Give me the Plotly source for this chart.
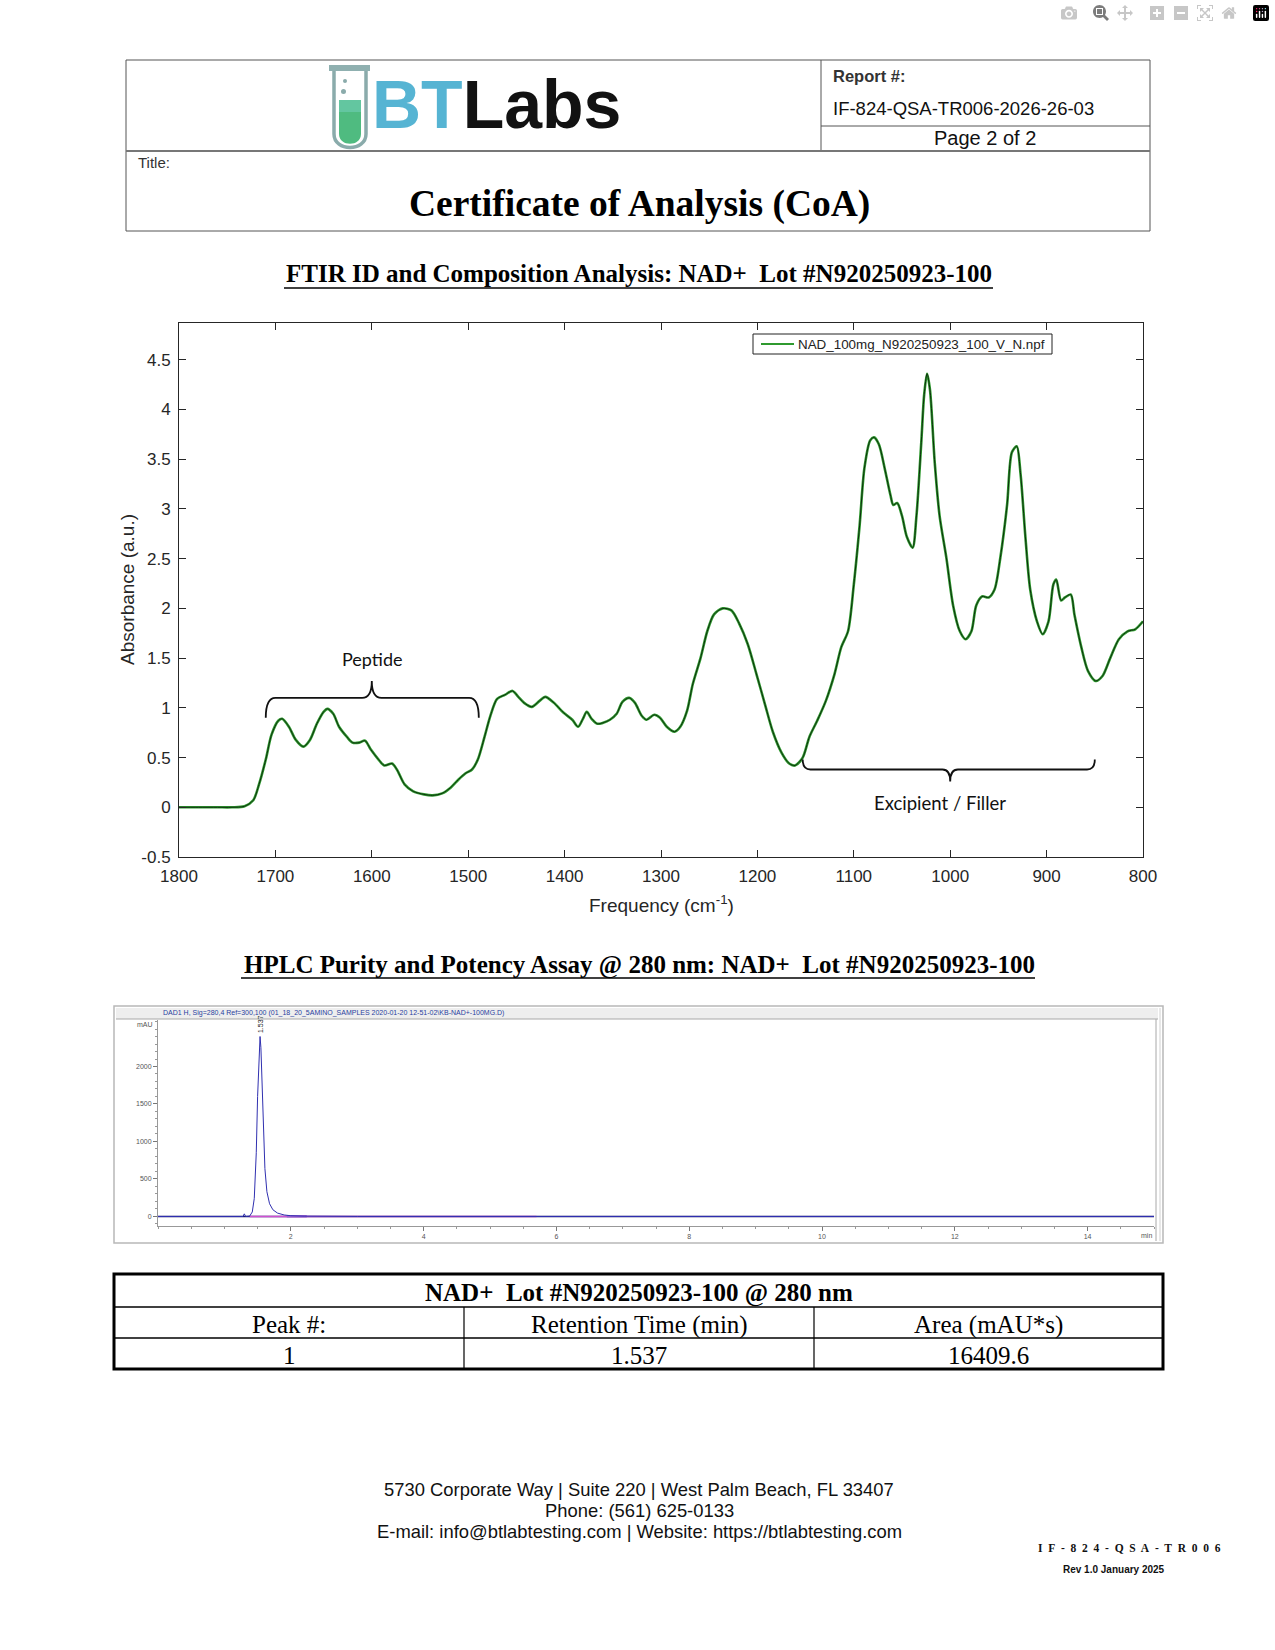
import plotly.graph_objects as go

# ---------------- DATA ----------------
ftir_freq = [1800, 1780, 1760, 1745, 1732, 1723, 1717, 1710, 1704, 1697, 1693, 1686, 1679, 1671,
             1664, 1657, 1650, 1646, 1640, 1634, 1626, 1620, 1613, 1607, 1601, 1593, 1587, 1579,
             1574, 1566, 1557, 1546, 1537, 1527, 1518, 1510, 1503, 1496, 1490, 1483, 1477, 1470,
             1462, 1454, 1448, 1442, 1434, 1426, 1420, 1411, 1401, 1392, 1386, 1381, 1377, 1372,
             1366, 1360, 1353, 1346, 1340, 1333, 1327, 1320, 1315, 1307, 1301, 1294, 1286, 1280,
             1273, 1267, 1259, 1252, 1245, 1236, 1227, 1219, 1210, 1201, 1192, 1184, 1175, 1167,
             1161, 1153, 1146, 1138, 1129, 1120, 1113, 1106, 1100, 1094, 1089, 1083, 1079, 1074,
             1068, 1062, 1059, 1055, 1050, 1045, 1039, 1035, 1030, 1027, 1024, 1021, 1016, 1011,
             1004, 997, 990, 984, 978, 973, 967, 960, 954, 948, 941, 936, 931, 927, 922, 917, 910,
             904, 898, 893, 890, 885, 881, 875, 871, 864, 857, 849, 842, 834, 825, 816, 808, 800]
ftir_abs = [0.00, 0.00, 0.00, 0.00, 0.01, 0.07, 0.23, 0.48, 0.73, 0.87, 0.89, 0.81, 0.68, 0.61,
            0.68, 0.84, 0.96, 0.99, 0.94, 0.81, 0.71, 0.65, 0.65, 0.67, 0.58, 0.48, 0.42, 0.44,
            0.38, 0.23, 0.16, 0.13, 0.12, 0.14, 0.20, 0.28, 0.34, 0.38, 0.48, 0.71, 0.92, 1.09,
            1.13, 1.17, 1.11, 1.05, 1.01, 1.07, 1.11, 1.05, 0.95, 0.88, 0.81, 0.89, 0.96, 0.89,
            0.84, 0.85, 0.88, 0.94, 1.06, 1.10, 1.05, 0.92, 0.88, 0.93, 0.90, 0.81, 0.76, 0.81,
            0.97, 1.24, 1.50, 1.77, 1.94, 2.00, 1.98, 1.85, 1.64, 1.34, 1.03, 0.76, 0.55, 0.44,
            0.42, 0.50, 0.71, 0.87, 1.07, 1.34, 1.61, 1.77, 2.24, 2.83, 3.41, 3.69, 3.72, 3.65,
            3.41, 3.14, 3.04, 3.06, 2.93, 2.72, 2.61, 2.93, 3.67, 4.15, 4.36, 4.20, 3.46, 2.93,
            2.51, 2.03, 1.77, 1.69, 1.77, 2.03, 2.12, 2.11, 2.19, 2.51, 3.04, 3.57, 3.63, 3.35,
            2.72, 2.19, 1.87, 1.74, 1.87, 2.24, 2.29, 2.08, 2.11, 2.14, 1.93, 1.61, 1.37, 1.27,
            1.32, 1.50, 1.69, 1.77, 1.79, 1.87]
ftir_name = "NAD_100mg_N920250923_100_V_N.npf"
ftir_xticks = [1800, 1700, 1600, 1500, 1400, 1300, 1200, 1100, 1000, 900, 800]
ftir_yticks = [-0.5, 0, 0.5, 1, 1.5, 2, 2.5, 3, 3.5, 4, 4.5]
ftir_yticklabels = ["-0.5", "0", "0.5", "1", "1.5", "2", "2.5", "3", "3.5", "4", "4.5"]

hplc_time = [0.0, 1.0, 1.28, 1.30, 1.32, 1.38, 1.42, 1.45, 1.48, 1.50, 1.52, 1.537, 1.55, 1.57,
             1.59, 1.61, 1.64, 1.68, 1.73, 1.80, 1.90, 2.00, 2.20, 3.00, 15.0]
hplc_mau = [0, 0, 0, 35, 0, 5, 60, 240, 850, 1600, 2200, 2400, 2250, 1700,
            1080, 640, 330, 170, 90, 45, 20, 10, 4, 0, 0]
hplc_base_t = [1.38, 5.70]
hplc_base_v = [0, 0]
hplc_base2_t = [1.94, 2.24]
hplc_base2_v = [3, 3]
hplc_xticks = [2, 4, 6, 8, 10, 12, 14]
hplc_yticks = [0, 500, 1000, 1500, 2000]
peak_rt = 1.537
peak_label = "1.537"

table_title = "NAD+  Lot #N920250923-100 @ 280 nm"
table_header = ["Peak #:", "Retention Time (min)", "Area (mAU*s)"]
table_row = ["1", "1.537", "16409.6"]

W, H = 1275, 1650


def X(p):
    return p / W


def Y(p):
    return 1 - p / H


SERIF = "Liberation Serif"
SANS = "Liberation Sans"

fig = go.Figure()

# FTIR traces
fig.add_trace(go.Scatter(x=ftir_freq, y=ftir_abs, mode="lines", name=ftir_name, showlegend=False,
                         line=dict(color="#2f9a2f", width=2.6, shape="spline", smoothing=0.8),
                         xaxis="x", yaxis="y"))
fig.add_trace(go.Scatter(x=ftir_freq, y=ftir_abs, mode="lines", showlegend=False,
                         line=dict(color="#0d2d0d", width=1.0, shape="spline", smoothing=0.8),
                         xaxis="x", yaxis="y", hoverinfo="skip"))

# HPLC traces
fig.add_trace(go.Scatter(x=[0, 15], y=[0, 0], mode="lines", showlegend=False,
                         line=dict(color="#1a1a6e", width=1.6), xaxis="x2", yaxis="y2"))
fig.add_trace(go.Scatter(x=hplc_base_t, y=hplc_base_v, mode="lines", showlegend=False,
                         line=dict(color="#d050d0", width=1.6), xaxis="x2", yaxis="y2"))
fig.add_trace(go.Scatter(x=hplc_base2_t, y=hplc_base2_v, mode="lines", showlegend=False,
                         line=dict(color="#a060d0", width=2.5), xaxis="x2", yaxis="y2"))
fig.add_trace(go.Scatter(x=hplc_time, y=hplc_mau, mode="lines", showlegend=False,
                         line=dict(color="#3030b0", width=1.0), xaxis="x2", yaxis="y2"))

shapes = []
ann = []


def line(x0, y0, x1, y1, color="#444", width=1):
    shapes.append(dict(type="line", xref="paper", yref="paper", x0=X(x0), y0=Y(y0),
                       x1=X(x1), y1=Y(y1), line=dict(color=color, width=width)))


def rect(x0, y0, x1, y1, color="#444", width=1, fill=None):
    d = dict(type="rect", xref="paper", yref="paper", x0=X(x0), y0=Y(y0), x1=X(x1), y1=Y(y1),
             line=dict(color=color, width=width))
    if fill:
        d["fillcolor"] = fill
    if width == 0:
        d["line"] = dict(width=0)
    shapes.append(d)


def text(x, y, s, size, family=SANS, color="#111", xanchor="center", yanchor="middle", angle=0):
    ann.append(dict(xref="paper", yref="paper", x=X(x), y=Y(y), text=s, showarrow=False,
                    xanchor=xanchor, yanchor=yanchor, textangle=angle,
                    font=dict(family=family, size=size, color=color)))


def path(pts_cmd, **kw):
    shapes.append(dict(type="path", xref="paper", yref="paper", path=pts_cmd, **kw))


def P(x, y):
    return f"{X(x):.5f},{Y(y):.5f}"


# ---------------- HEADER ----------------
rect(126, 60, 1150, 231, color="#555", width=1)
line(821, 60, 821, 151, color="#555")
line(821, 126, 1150, 126, color="#555")
line(126, 151, 1150, 151, color="#777", width=2)

# test tube logo
rect(329, 65, 370, 71, width=0, fill="#8fb0b0")
path("M " + P(334, 71) + " L " + P(334, 134) + " C " + P(334, 152) + " " + P(366, 152) + " "
     + P(366, 134) + " L " + P(366, 71),
     line=dict(color="#8aabab", width=3.5))
path("M " + P(339, 100) + " L " + P(339, 134) + " C " + P(339, 147) + " " + P(361, 147) + " "
     + P(361, 134) + " L " + P(361, 100) + " Z",
     fillcolor="#4fbb80", line=dict(width=0))
path("M " + P(339, 100) + " L " + P(361, 100) + " L " + P(361, 112) + " L " + P(339, 112) + " Z",
     fillcolor="#63c6a0", line=dict(width=0))
shapes.append(dict(type="circle", xref="paper", yref="paper", x0=X(343), y0=Y(83), x1=X(347), y1=Y(79),
                   fillcolor="#8aabab", line=dict(width=0)))
shapes.append(dict(type="circle", xref="paper", yref="paper", x0=X(341), y0=Y(94), x1=X(346), y1=Y(89),
                   fillcolor="#8aabab", line=dict(width=0)))

text(496, 104, '<b><span style="color:#56b4d3">BT</span><span style="color:#121212">Labs</span></b>',
     68, family=SANS)

text(831, 76, "<b>Report #:</b>", 16.5, xanchor="left", color="#333")
text(831, 109, "IF-824-QSA-TR006-2026-26-03", 18.5, xanchor="left", color="#111")
text(985, 138, "Page 2 of 2", 20, color="#111")
text(136, 163, "Title:", 15, xanchor="left", color="#333")
text(639, 204, "<b>Certificate of Analysis (CoA)</b>", 37.5, family=SERIF, color="#000")

# ---------------- FTIR heading ----------------
text(639, 274, "<b>FTIR ID and Composition Analysis: NAD+  Lot #N920250923-100</b>", 25,
     family=SERIF, color="#000")
line(284, 288, 993, 288, color="#000", width=1.5)

# FTIR axis titles
text(661, 904, "Frequency (cm<sup>-1</sup>)", 19, color="#262626")
text(127, 590, "Absorbance (a.u.)", 19, color="#262626", angle=-90)

# manual legend box
rect(753, 334, 1052, 354, color="#222", width=1, fill="white")
line(761, 344, 794, 344, color="#2f9a2f", width=2)
text(796, 344, ftir_name, 13.4, xanchor="left", color="#222")

# Peptide bracket (data coords)
shapes.append(dict(type="path", xref="x", yref="y",
                   path="M 1710,0.90 Q 1710,1.10 1700,1.10 L 1610,1.10 Q 1600,1.10 1600,1.27 "
                        "Q 1600,1.10 1590,1.10 L 1499,1.10 Q 1489,1.10 1489,0.90",
                   line=dict(color="#111", width=1.8)))
ann.append(dict(xref="x", yref="y", x=1600, y=1.49, text="Peptide", showarrow=False,
                font=dict(family="Lato", size=18, color="#111")))
shapes.append(dict(type="path", xref="x", yref="y",
                   path="M 1153,0.48 Q 1153,0.38 1145,0.38 L 1008,0.38 Q 1000,0.38 1000,0.26 "
                        "Q 1000,0.38 992,0.38 L 858,0.38 Q 850,0.38 850,0.48",
                   line=dict(color="#111", width=1.8)))
ann.append(dict(xref="x", yref="y", x=1011, y=0.04, text="Excipient / Filler", showarrow=False,
                font=dict(family="Lato", size=18.5, color="#111")))

# ---------------- HPLC heading ----------------
text(639, 965, "<b>HPLC Purity and Potency Assay @ 280 nm: NAD+  Lot #N920250923-100</b>", 25,
     family=SERIF, color="#000")
line(241, 978, 1035, 978, color="#000", width=1.5)

# HPLC panel frame
rect(114, 1006, 1163, 1243, color="#b8b8b8", width=1.5, fill="rgba(0,0,0,0)")
rect(116, 1008, 1158, 1019, width=0, fill="#eeeeee")
line(116, 1019, 1158, 1019, color="#a8a8a8", width=1)
line(1156, 1019, 1156, 1241, color="#a8a8a8", width=1)
line(1160, 1008, 1160, 1241, color="#d0d0d0", width=1)
text(161, 1013, "DAD1 H, Sig=280,4 Ref=300,100 (01_18_20_5AMINO_SAMPLES 2020-01-20 12-51-02\\KB-NAD+-100MG.D)",
     7, xanchor="left", color="#2a3fa0")
text(155, 1024, "mAU", 7, xanchor="right", color="#555")
text(1154, 1235, "min", 7, xanchor="right", color="#555")
ann.append(dict(xref="x2", yref="y2", x=peak_rt, y=2420, text=peak_label, showarrow=False,
                textangle=-90, yanchor="bottom", font=dict(family=SANS, size=7, color="#222")))

# ---------------- TABLE ----------------
tx0, tx1 = 114, 1163
ty = [1274, 1307, 1338, 1369]
cx = [114, 464, 814, 1163]
line(tx0, ty[1], tx1, ty[1], color="#000", width=1.5)
line(tx0, ty[2], tx1, ty[2], color="#000", width=1.5)
line(cx[1], ty[1], cx[1], ty[3], color="#000", width=1.2)
line(cx[2], ty[1], cx[2], ty[3], color="#000", width=1.2)
rect(tx0, ty[0], tx1, ty[3], color="#000", width=3)
text(639, (ty[0] + ty[1]) / 2 + 2, "<b>" + table_title + "</b>", 25, family=SERIF, color="#000")
for i in range(3):
    text((cx[i] + cx[i + 1]) / 2, (ty[1] + ty[2]) / 2 + 2, table_header[i], 25, family=SERIF, color="#000")
    text((cx[i] + cx[i + 1]) / 2, (ty[2] + ty[3]) / 2 + 1.5, table_row[i], 25, family=SERIF, color="#000")

# ---------------- FOOTER ----------------
text(639, 1489, "5730 Corporate Way | Suite 220 | West Palm Beach, FL 33407", 18.4, color="#111")
text(639, 1510, "Phone: (561) 625-0133", 18.4, color="#111")
text(639, 1531, "E-mail: info@btlabtesting.com | Website: https://btlabtesting.com", 18.4, color="#111")
sp = "&nbsp; "
text(1129, 1548, "<b>" + sp.join(list("IF")) + sp + "-" + sp + sp.join(list("824")) + sp + "-" + sp
     + sp.join(list("QSA")) + sp + "-" + sp + sp.join(list("TR006")) + "</b>", 11.5, family=SERIF, color="#111")
text(1114, 1569, "<b>Rev 1.0 January 2025</b>", 10, color="#111")

fig.update_layout(
    width=W, height=H, margin=dict(l=0, r=0, t=0, b=0, pad=0, autoexpand=False),
    paper_bgcolor="white", plot_bgcolor="white",
    shapes=shapes, annotations=ann,
    showlegend=False,
    xaxis=dict(domain=[X(179), X(1143)], range=[1800, 800], anchor="y", automargin=False,
               tickvals=ftir_xticks, ticktext=[str(v) for v in ftir_xticks],
               ticks="inside", ticklen=7, tickcolor="#262626", showline=True, linecolor="#262626",
               linewidth=1, mirror="ticks", showgrid=False, zeroline=False, ticklabelstandoff=4,
               tickfont=dict(family=SANS, size=17, color="#262626")),
    yaxis=dict(domain=[Y(857), Y(323)], range=[-0.5, 4.87], anchor="x", automargin=False,
               tickvals=ftir_yticks, ticktext=ftir_yticklabels,
               ticks="inside", ticklen=7, tickcolor="#262626", showline=True, linecolor="#262626",
               linewidth=1, mirror="ticks", showgrid=False, zeroline=False, ticklabelstandoff=4,
               tickfont=dict(family=SANS, size=17, color="#262626")),
    xaxis2=dict(domain=[X(158), X(1154)], range=[0, 15], anchor="y2", automargin=False,
                tickvals=hplc_xticks, ticktext=[str(v) for v in hplc_xticks],
                ticks="outside", ticklen=4, tickcolor="#777", showline=True, linecolor="#999",
                linewidth=1, showgrid=False, zeroline=False,
                minor=dict(dtick=0.5, ticks="outside", ticklen=2, tickcolor="#999"),
                tickfont=dict(family=SANS, size=7, color="#555")),
    yaxis2=dict(domain=[Y(1226), Y(1020)], range=[-127, 2620], anchor="x2", automargin=False,
                tickvals=hplc_yticks, ticktext=[str(v) for v in hplc_yticks],
                ticks="outside", ticklen=4, tickcolor="#777", showline=True, linecolor="#999",
                linewidth=1, showgrid=False, zeroline=False,
                minor=dict(dtick=100, ticks="outside", ticklen=2, tickcolor="#999"),
                tickfont=dict(family=SANS, size=7, color="#555")),
)

fig.write_html("out.html", post_script="document.body.style.margin='0';")
